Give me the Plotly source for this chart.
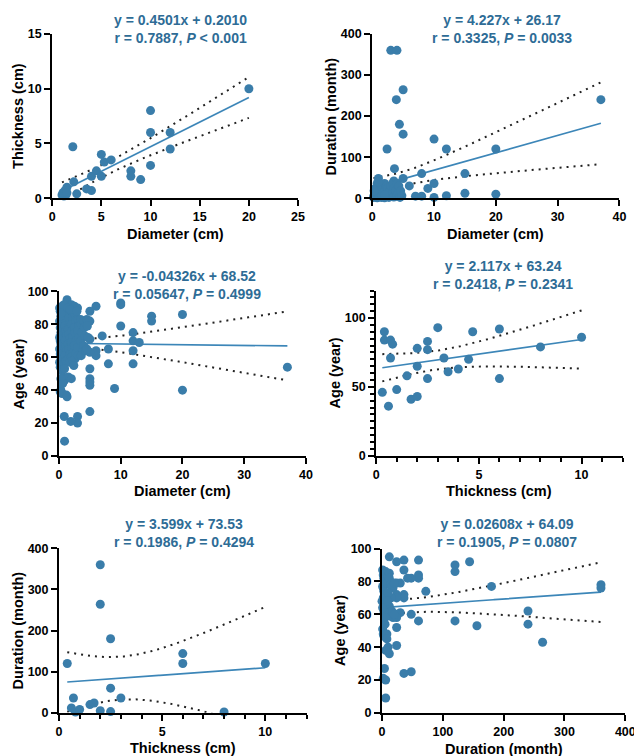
import numpy as np
import plotly.graph_objects as go

# ---------------- data ----------------
# Panel 1: Thickness vs Diameter
p1_diameter = [1.0, 1.1, 1.2, 1.3, 1.4, 1.5, 1.5, 2.1, 2.2, 2.5, 3.5, 4.0, 4.0, 4.5,
               5.0, 5.0, 5.3, 6.0, 8.0, 8.0, 9.0, 10, 10, 10, 12, 12, 20]
p1_thickness = [0.3, 0.5, 0.2, 0.7, 0.3, 1.0, 0.5, 4.7, 1.5, 0.4, 0.85, 0.7, 2.0, 2.5,
                4.0, 2.0, 3.3, 3.5, 2.5, 2.0, 1.7, 8.0, 6.0, 3.0, 6.0, 4.5, 10.0]

# Panel 2: Duration vs Diameter
p2_diameter = [3.0, 4.0, 5.0, 3.9, 4.4, 5.0, 2.4, 10, 12, 20, 37, 3.6, 1.0, 5.0, 3.5, 8, 15,
               6, 9, 10, 15, 20, 12, 10, 7, 8,
               0.2, 0.3, 0.4, 0.5, 0.5, 0.6, 0.7, 0.8, 0.8, 0.9, 1.0, 1.0, 1.1, 1.2, 1.2, 1.3,
               1.4, 1.5, 1.5, 1.6, 1.7, 1.8, 2.0, 2.0, 2.0, 2.2, 2.3, 2.5, 2.5, 2.7, 2.8, 3.0,
               3.0, 3.2, 3.3, 3.5, 3.5, 3.8, 4.0, 4.0, 4.2, 4.3, 4.5, 4.6, 4.8, 1.0, 0.3, 2.0]
p2_duration = [360, 360, 264, 240, 180, 156, 120, 144, 120, 120, 240, 72, 48, 48, 42, 60, 60,
               30, 24, 36, 12, 10, 6, 2, 5, 5,
               2, 6, 12, 3, 24, 8, 18, 36, 1, 12, 30, 6, 24, 3, 36, 12,
               18, 30, 2, 6, 24, 12, 36, 1, 18, 6, 30, 12, 24, 2, 18, 6,
               30, 12, 36, 3, 24, 18, 6, 36, 12, 30, 2, 18, 6, 40, 18, 8]

# Panel 3: Age vs Diameter
p3_diameter = [37, 20, 20, 15, 15, 12, 12, 12, 12, 13, 10, 10, 10, 9, 8, 8, 7, 6, 6, 6,
               5, 5, 5, 5, 5, 5, 5, 5, 5, 3, 3, 1.9, 0.85, 0.9,
               0.1, 0.2, 0.3, 0.1, 0.2, 0.3, 0.1, 0.2, 0.3, 0.1, 0.2, 0.3, 0.1, 0.2, 0.4, 0.3, 0.5, 0.2,
               0.5, 0.6, 0.7, 0.5, 0.6, 0.7, 0.5, 0.6, 0.7, 0.5, 0.6, 0.8, 0.7, 0.9,
               1.0, 1.1, 1.2, 1.0, 1.1, 1.2, 1.0, 1.1, 1.2, 1.0, 1.1, 1.3, 1.2, 1.3, 1.5,
               1.5, 1.6, 1.7, 1.5, 1.6, 1.7, 1.5, 1.6, 1.8, 1.5, 1.7, 2.0,
               2.0, 2.1, 2.2, 2.0, 2.1, 2.2, 2.0, 2.1, 2.3, 2.0, 2.2,
               2.5, 2.6, 2.7, 2.5, 2.6, 2.8, 2.5, 2.7, 2.6,
               3.0, 3.1, 3.2, 3.0, 3.2, 3.0, 3.1,
               3.5, 3.6, 3.7, 3.5, 3.8, 3.6,
               4.0, 4.1, 4.2, 4.0, 4.3, 4.5, 4.6, 4.5, 4.7,
               0.4, 0.8, 1.4, 2.4, 0.3, 0.9, 1.8, 2.9, 0.6]
p3_age = [54, 86, 40, 85, 82, 75, 70, 64, 56, 69, 93, 92, 79, 41, 65, 56, 73, 91, 64, 61,
          88, 82, 71, 63, 53, 47, 45, 43, 27, 24, 20, 21, 24, 9,
          90, 88, 85, 82, 78, 75, 72, 70, 68, 65, 62, 60, 57, 54, 52, 40, 38, 39,
          91, 86, 83, 80, 77, 74, 71, 68, 65, 62, 59, 56, 48, 46,
          89, 85, 81, 79, 76, 73, 70, 67, 64, 61, 58, 95, 37, 36, 48,
          87, 84, 80, 77, 74, 71, 68, 65, 62, 59, 57, 47,
          92, 88, 84, 80, 76, 72, 69, 66, 63, 60, 58,
          91, 86, 82, 78, 75, 70, 67, 62, 59,
          90, 83, 79, 76, 72, 66, 61,
          83, 80, 75, 70, 64, 61,
          82, 78, 73, 67, 64, 83, 79, 65, 72,
          87, 92, 90, 55, 47, 53, 89, 88, 44]

# Panel 4: Age vs Thickness
p4_thickness = [0.3, 0.4, 0.4, 0.6, 0.7, 0.7, 0.8, 1.0, 1.5, 1.7, 2.0, 2.0, 2.0, 2.5, 2.5,
                2.5, 3.0, 3.3, 3.5, 4.0, 4.5, 4.7, 6.0, 6.0, 8.0, 10.0]
p4_age = [46, 90, 84, 36, 84, 71, 81, 48, 58, 41, 43, 78, 65, 83, 77,
          56, 93, 71, 61, 63, 70, 90, 92, 56, 79, 86]

# Panel 5: Duration vs Thickness
p5_thickness = [0.4, 0.6, 0.7, 0.8, 1.0, 1.5, 1.7, 2.0, 2.0, 2.0, 2.5, 2.5, 2.5, 3.0,
                6.0, 6.0, 8.0, 10.0]
p5_duration = [120, 12, 36, 2, 8, 20, 24, 360, 264, 5, 180, 60, 3, 36,
               144, 120, 2, 120]

# Panel 6: Age vs Duration
p6_duration = [360, 360, 264, 240, 240, 180, 156, 144, 120, 120, 120, 72, 60, 60, 60, 60,
               48, 48, 48, 42, 36, 36, 36, 36, 36, 30, 30, 24, 24, 24, 24, 24, 24, 24, 24,
               1, 2, 3, 4, 5, 6, 1, 2, 3, 6, 8, 10, 12, 12, 12, 14, 16, 18, 20, 0,
               2, 4, 6, 8, 10, 12, 14, 16, 18, 20, 1, 2, 3, 5, 6, 8, 10, 12, 6, 4,
               2, 6, 6, 8, 3, 15, 10, 1, 9, 5]
p6_age = [78, 76, 43, 62, 54, 77, 53, 92, 90, 86, 56, 74, 93, 84, 82, 56,
          82, 60, 25, 82, 93, 87, 72, 70, 24, 79, 61, 92, 79, 72, 70, 60, 58, 52, 41,
          87, 84, 82, 80, 78, 86, 77, 76, 74, 72, 79, 83, 85, 82, 95, 78, 77, 76, 79, 68,
          70, 66, 64, 62, 60, 65, 59, 62, 58, 60, 51, 48, 47, 54, 46, 48, 40, 36, 38, 27,
          21, 20, 9, 45, 62, 70, 73, 64, 68, 58]

# Fit results printed on the chart
fit_slopes = [0.4501, 4.227, -0.04326, 2.117, 3.599, 0.02608]
fit_intercepts = [0.2010, 26.17, 68.52, 63.24, 73.53, 64.09]
slope_labels = ["0.4501", "4.227", "-0.04326", "2.117", "3.599", "0.02608"]
intercept_labels = ["0.2010", "26.17", "68.52", "63.24", "73.53", "64.09"]
r_labels = ["0.7887", "0.3325", "0.05647", "0.2418", "0.1986", "0.1905"]
p_labels = ["< 0.001", "= 0.0033", "= 0.4999", "= 0.2341", "= 0.4294", "= 0.0807"]

x_titles = ["Diameter (cm)", "Diameter (cm)", "Diameter (cm)", "Thickness (cm)",
            "Thickness (cm)", "Duration (month)"]
y_titles = ["Thickness (cm)", "Duration (month)", "Age (year)", "Age (year)",
            "Duration (month)", "Age (year)"]
x_ranges = [[0, 25], [0, 40], [0, 40], [0, 12], [0, 12], [0, 400]]
y_ranges = [[0, 15], [0, 400], [0, 100], [0, 120], [0, 400], [0, 100]]
x_dticks = [5, 10, 10, 5, 5, 100]
y_dticks = [5, 100, 20, 50, 100, 20]

panels = [
    (p1_diameter, p1_thickness),
    (p2_diameter, p2_duration),
    (p3_diameter, p3_age),
    (p4_thickness, p4_age),
    (p5_thickness, p5_duration),
    (p6_duration, p6_age),
]

# ---------------- styling ----------------
W, H = 642, 756
MARKER = "#3A7DAA"
LINE = "#3C86B8"
TEXT_BLUE = "#2E6C96"
FONT = "Liberation Sans, Arial, sans-serif"

# plot-area boxes in pixels: (left, right, top, bottom)
boxes = [
    (42, 293, 19.3, 186.7),
    (368.7, 621, 19.3, 186.7),
    (49, 301, 281.7, 449.3),
    (372.7, 624.3, 280.7, 449),
    (49, 301.7, 543.3, 711),
    (378.7, 627, 543.7, 711),
]
title_pos = [(173, 14), (501, 14), (180, 275.5), (502, 264.5), (177, 528), (506, 528)]
ytitle_x = [7, 327, 8, 331, 7, 336]
xtitle_y = [223, 223, 485, 485, 747, 748]


def t975(df):
    z = 1.959964
    g1 = (z ** 3 + z) / 4
    g2 = (5 * z ** 5 + 16 * z ** 3 + 3 * z) / 96
    g3 = (3 * z ** 7 + 19 * z ** 5 + 17 * z ** 3 - 15 * z) / 384
    return z + g1 / df + g2 / df ** 2 + g3 / df ** 3


def band(x, y, slope, intercept, xs):
    x = np.asarray(x, float)
    y = np.asarray(y, float)
    n = len(x)
    res = y - (slope * x + intercept)
    s = np.sqrt(np.sum(res ** 2) / (n - 2))
    xbar = x.mean()
    sxx = np.sum((x - xbar) ** 2)
    hw = t975(n - 2) * s * np.sqrt(1.0 / n + (xs - xbar) ** 2 / sxx)
    yh = slope * xs + intercept
    return yh - hw, yh + hw


fig = go.Figure()
annotations = []
for i, (xv, yv) in enumerate(panels):
    k = "" if i == 0 else str(i + 1)
    xa, ya = "x" + k, "y" + k
    slope, intercept = fit_slopes[i], fit_intercepts[i]
    xs = np.linspace(min(xv), max(xv), 200)
    lo, hi = band(xv, yv, slope, intercept, xs)
    for yy in (lo, hi):
        fig.add_trace(go.Scatter(x=xs, y=yy, mode="lines", xaxis=xa, yaxis=ya,
                                 line=dict(color="#222222", width=2, dash="2px,5px"),
                                 hoverinfo="skip", showlegend=False))
    fig.add_trace(go.Scatter(x=xs, y=slope * xs + intercept, mode="lines", xaxis=xa, yaxis=ya,
                             line=dict(color=LINE, width=1.7), showlegend=False))
    fig.add_trace(go.Scatter(x=xv, y=yv, mode="markers", xaxis=xa, yaxis=ya,
                             marker=dict(color=MARKER, size=9), cliponaxis=False,
                             showlegend=False))

    l, r, t, b = boxes[i]
    common = dict(showline=True, linecolor="black", linewidth=2, ticks="outside",
                  ticklen=6, tickwidth=2, tickcolor="black", showgrid=False,
                  zeroline=False, tickfont=dict(family=FONT, size=12.5, color="black",
                                                weight="bold"), fixedrange=True,
                  ticklabeloverflow="allow")
    xaxis = dict(domain=[l / W, r / W], anchor=ya, range=x_ranges[i], tick0=0,
                 dtick=x_dticks[i], **common)
    yaxis = dict(domain=[1 - b / H, 1 - t / H], anchor=xa, range=y_ranges[i], tick0=0,
                 dtick=y_dticks[i], **common)
    if i in (3, 4):
        xaxis["minor"] = dict(dtick=1, tick0=0, ticks="outside", ticklen=4, tickwidth=1.5,
                              tickcolor="black", showgrid=False)
    if i == 3:
        yaxis["minor"] = dict(dtick=5, tick0=0, ticks="outside", ticklen=4, tickwidth=1.5,
                              tickcolor="black", showgrid=False)
    fig.update_layout(**{"xaxis" + k: xaxis, "yaxis" + k: yaxis})

    tx, ty = title_pos[i]
    annotations.append(dict(
        x=tx / W, y=1 - ty / H, xref="paper", yref="paper", showarrow=False,
        xanchor="center", yanchor="middle", align="center",
        text=("<b>y = %sx + %s</b><br><b>r = %s, <i>P</i> %s</b>"
              % (slope_labels[i], intercept_labels[i], r_labels[i],
                 p_labels[i].replace("<", "&lt;"))),
        font=dict(family=FONT, size=14, color=TEXT_BLUE)))
    annotations.append(dict(
        x=(l + r) / 2 / W, y=1 - xtitle_y[i] / H, xref="paper", yref="paper",
        showarrow=False, xanchor="center", yanchor="middle",
        text="<b>%s</b>" % x_titles[i], font=dict(family=FONT, size=14.5, color="black")))
    annotations.append(dict(
        x=ytitle_x[i] / W, y=1 - (t + b) / 2 / H, xref="paper", yref="paper",
        showarrow=False, xanchor="center", yanchor="middle", textangle=-90,
        text="<b>%s</b>" % y_titles[i], font=dict(family=FONT, size=14.5, color="black")))

fig.update_layout(width=W, height=H, margin=dict(l=0, r=0, t=0, b=0),
                  paper_bgcolor="white", plot_bgcolor="white",
                  annotations=annotations, showlegend=False)
fig.write_html("out.html")
